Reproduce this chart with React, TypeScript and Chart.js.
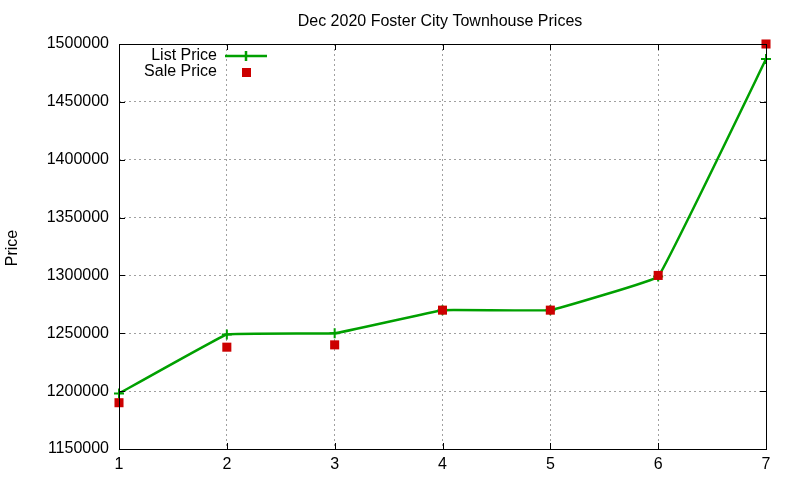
import { useEffect, useRef } from "react"
import { Chart, registerables } from "chart.js"

Chart.register(...registerables)

const xValues = [1, 2, 3, 4, 5, 6, 7]
const listPrice = [1198000, 1249000, 1250000, 1270000, 1270000, 1299000, 1487000]
const salePrice = [1190000, 1238000, 1240000, 1270000, 1270000, 1300000, 1500000]

const FONT = "'Liberation Sans', Arial, sans-serif"
const GREEN = "#00a000"
const RED = "#cc0000"

// gnuplot-like frame: full border, inward ticks, title, y label, legend
const gnuplotFrame = {
  id: "gnuplotFrame",
  afterDraw(chart: Chart) {
    const { ctx, chartArea: a, scales } = chart
    const xs = scales.x
    const ys = scales.y
    ctx.save()
    ctx.strokeStyle = "#000"
    ctx.lineWidth = 1
    ctx.strokeRect(a.left + 0.5, a.top + 0.5, a.right - a.left, a.bottom - a.top)

    const t = 6
    ctx.beginPath()
    xs.ticks.forEach((tk) => {
      const px = Math.round(xs.getPixelForValue(tk.value)) + 0.5
      ctx.moveTo(px, a.bottom)
      ctx.lineTo(px, a.bottom - t)
      ctx.moveTo(px, a.top)
      ctx.lineTo(px, a.top + t)
    })
    ys.ticks.forEach((tk) => {
      const py = Math.round(ys.getPixelForValue(tk.value)) + 0.5
      ctx.moveTo(a.left, py)
      ctx.lineTo(a.left + t, py)
      ctx.moveTo(a.right, py)
      ctx.lineTo(a.right - t, py)
    })
    ctx.stroke()

    ctx.fillStyle = "#000"
    ctx.font = `16px ${FONT}`
    ctx.textAlign = "center"
    ctx.textBaseline = "middle"
    ctx.fillText("Dec 2020 Foster City Townhouse Prices", 440, 22)

    ctx.save()
    ctx.translate(13, 248)
    ctx.rotate(-Math.PI / 2)
    ctx.fillText("Price", 0, 0)
    ctx.restore()

    // legend
    ctx.textAlign = "right"
    ctx.fillText("List Price", 217, 56)
    ctx.fillText("Sale Price", 217, 72)
    ctx.strokeStyle = GREEN
    ctx.lineWidth = 2.5
    ctx.beginPath()
    ctx.moveTo(225, 56)
    ctx.lineTo(267, 56)
    ctx.moveTo(246, 51)
    ctx.lineTo(246, 61)
    ctx.stroke()
    ctx.fillStyle = RED
    ctx.fillRect(242, 68, 9, 9)
    ctx.restore()
  },
}

export default function App() {
  const chartRef = useRef<HTMLCanvasElement | null>(null)
  const chartInstance = useRef<Chart | null>(null)

  useEffect(() => {
    document.body.style.margin = "0"
    if (!chartRef.current) return
    if (chartInstance.current) chartInstance.current.destroy()
    const ctx = chartRef.current.getContext("2d")
    if (!ctx) return

    chartInstance.current = new Chart(ctx, {
      type: "scatter",
      data: {
        datasets: [
          {
            label: "Sale Price",
            data: xValues.map((x, i) => ({ x, y: salePrice[i] })),
            showLine: false,
            pointStyle: "rect",
            pointRadius: 6.4,
            pointBackgroundColor: RED,
            pointBorderColor: RED,
            pointBorderWidth: 0,
            order: 0,
            clip: false,
          },
          {
            label: "List Price",
            data: xValues.map((x, i) => ({ x, y: listPrice[i] })),
            showLine: true,
            borderColor: GREEN,
            borderWidth: 2.5,
            tension: 0.05,
            pointStyle: "cross",
            pointRadius: 5,
            pointBorderColor: GREEN,
            pointBorderWidth: 2,
            order: 1,
            clip: false,
          },
        ],
      },
      options: {
        responsive: false,
        animation: false,
        layout: { padding: { top: 44, right: 34, left: 0, bottom: 0 } },
        plugins: {
          legend: { display: false },
          title: { display: false },
          tooltip: { enabled: false },
        },
        scales: {
          x: {
            type: "linear",
            min: 1,
            max: 7,
            afterFit: (scale) => {
              scale.height = 31
            },
            ticks: {
              stepSize: 1,
              padding: 6,
              color: "#000",
              font: { family: FONT, size: 16 },
            },
            grid: { color: "#a0a0a0", drawTicks: false, lineWidth: 1 },
            border: { display: false, dash: [2, 3] },
          },
          y: {
            type: "linear",
            min: 1150000,
            max: 1500000,
            afterFit: (scale) => {
              scale.width = 119
            },
            ticks: {
              stepSize: 50000,
              padding: 10,
              color: "#000",
              font: { family: FONT, size: 16 },
              callback: (v) => String(v),
            },
            grid: { color: "#a0a0a0", drawTicks: false, lineWidth: 1 },
            border: { display: false, dash: [2, 3] },
          },
        },
      },
      plugins: [gnuplotFrame],
    })

    return () => {
      if (chartInstance.current) {
        chartInstance.current.destroy()
        chartInstance.current = null
      }
    }
  }, [])

  return (
    <div style={{ width: 800, height: 480 }}>
      <canvas ref={chartRef} width={800} height={480} />
    </div>
  )
}
